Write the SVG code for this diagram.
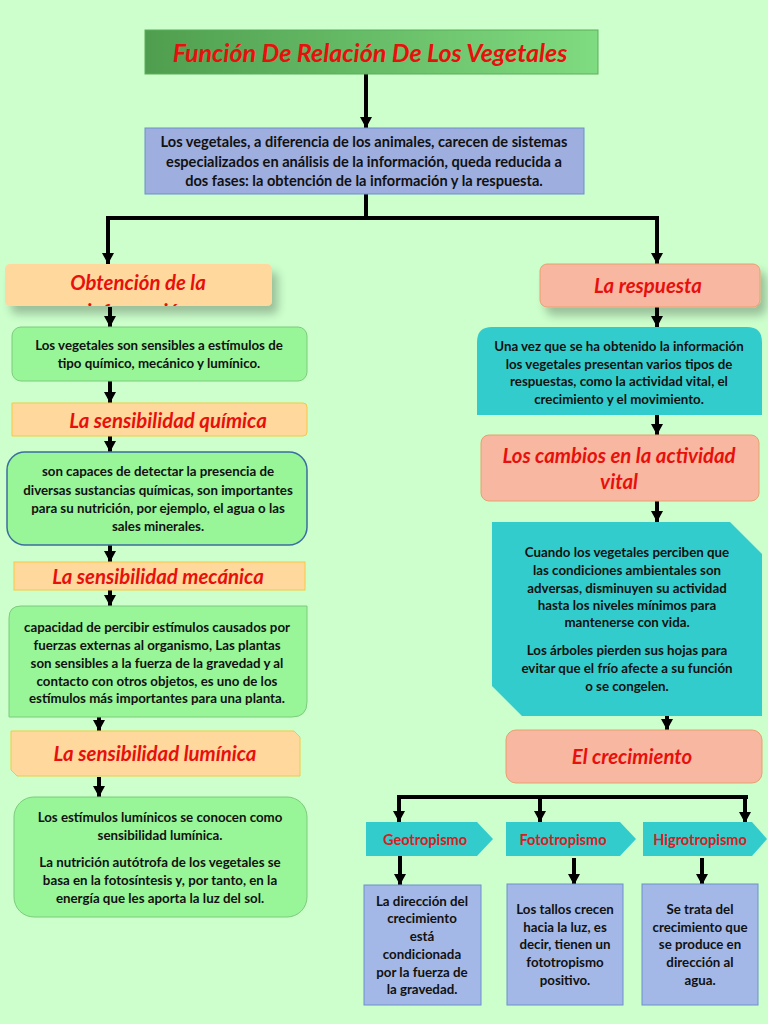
<svg xmlns="http://www.w3.org/2000/svg" width="768" height="1024" viewBox="0 0 768 1024">
<defs>
<linearGradient id="gTitle" x1="0" y1="0" x2="1" y2="0">
<stop offset="0" stop-color="#4f9e4f"/><stop offset="1" stop-color="#80dc80"/>
</linearGradient>
<marker id="ah" markerUnits="userSpaceOnUse" markerWidth="14" markerHeight="14" viewBox="0 0 14 14" refX="12" refY="7" orient="auto">
<path d="M1,1 L12,7 L1,13 Z" fill="#000"/>
</marker>
<filter id="sh" x="-10%" y="-20%" width="130%" height="180%">
<feGaussianBlur in="SourceAlpha" stdDeviation="5"/>
<feOffset dx="6" dy="8" result="b"/>
<feComponentTransfer><feFuncA type="linear" slope="0.25"/></feComponentTransfer>
<feMerge><feMergeNode/><feMergeNode in="SourceGraphic"/></feMerge>
</filter>
<clipPath id="cObt"><rect x="5" y="264" width="267" height="42"/></clipPath>
</defs>
<style>
.t{font-family:Lato,"Open Sans","Liberation Sans",sans-serif;font-weight:bold;font-size:13.3px;fill:#111;text-anchor:middle}
.i{font-size:14.6px}
.h{font-family:Lato,"Open Sans","Liberation Sans",sans-serif;font-weight:bold;font-style:italic;font-size:20.4px;fill:#e8100c;text-anchor:middle}
.s{font-family:Lato,"Open Sans","Liberation Sans",sans-serif;font-weight:bold;font-size:14.5px;fill:#d42020;text-anchor:middle}
.peach{fill:#ffd89e;stroke:#f5c842;stroke-width:1}
.salmon{fill:#f7b7a0;stroke:#e8a070;stroke-width:1}
.green{fill:#98f598;stroke:#7ccc7c;stroke-width:1}
.teal{fill:#33cccc;stroke:none}
.blue{fill:#a3b8e6;stroke:#6d90cc;stroke-width:1}
.c{stroke:#000;stroke-width:4;fill:none}
</style>
<rect width="768" height="1024" fill="#ccffcc"/>

<g id="connectors">
<path class="c" d="M366,74 V128" marker-end="url(#ah)"/>
<path class="c" d="M366,194 V218 M106,218 H659"/>
<path class="c" d="M108,218 V264" marker-end="url(#ah)"/>
<path class="c" d="M657,218 V264" marker-end="url(#ah)"/>
<path class="c" d="M110,307 V327" marker-end="url(#ah)"/>
<path class="c" d="M110,381 V403" marker-end="url(#ah)"/>
<path class="c" d="M110,436 V452" marker-end="url(#ah)"/>
<path class="c" d="M110,545 V562" marker-end="url(#ah)"/>
<path class="c" d="M110,590 V606" marker-end="url(#ah)"/>
<path class="c" d="M99,717 V731" marker-end="url(#ah)"/>
<path class="c" d="M99,777 V797" marker-end="url(#ah)"/>
<path class="c" d="M657,307 V327" marker-end="url(#ah)"/>
<path class="c" d="M657,415 V435" marker-end="url(#ah)"/>
<path class="c" d="M657,501 V522" marker-end="url(#ah)"/>
<path class="c" d="M667,716 V730" marker-end="url(#ah)"/>
<path class="c" d="M397,797 H748"/>
<path class="c" d="M399,797 V822" marker-end="url(#ah)"/>
<path class="c" d="M540,797 V822" marker-end="url(#ah)"/>
<path class="c" d="M745,797 V823" marker-end="url(#ah)"/>
<path class="c" d="M400,856 V885" marker-end="url(#ah)"/>
<path class="c" d="M574,858 V885" marker-end="url(#ah)"/>
<path class="c" d="M702,858 V885" marker-end="url(#ah)"/>
</g>

<g id="title">
<rect x="145" y="30" width="453" height="44" fill="url(#gTitle)" stroke="#5ab05a"/>
<text class="h" x="370" y="62" style="font-size:25px">Función De Relación De Los Vegetales</text>
</g>

<g id="intro">
<rect x="145" y="128" width="439" height="66" class="blue" style="fill:#9eaedf"/>
<text class="t i" x="364" y="147">Los vegetales, a diferencia de los animales, carecen de sistemas</text>
<text class="t i" x="364" y="167">especializados en análisis de la información, queda reducida a</text>
<text class="t i" x="364" y="186">dos fases: la obtención de la información y la respuesta.</text>
</g>

<g id="obtencion">
<rect x="5" y="264" width="267" height="42" rx="5" fill="#ffd89e" filter="url(#sh)"/>
<g clip-path="url(#cObt)">
<text class="h" x="138" y="290">Obtención de la</text>
<text class="h" x="138" y="319">información</text>
</g>
</g>

<g id="sensibles">
<rect x="12" y="327" width="295" height="54" rx="9" class="green"/>
<text class="t" x="159" y="350">Los vegetales son sensibles a estímulos de</text>
<text class="t" x="159" y="368">tipo químico, mecánico y lumínico.</text>
</g>

<g id="quimica">
<path d="M12,403 H303 Q307,403 307,407 V432 Q307,436 303,436 H12 Z" class="peach"/>
<text class="h" x="168" y="428">La sensibilidad química</text>
</g>

<g id="quimica-txt">
<rect x="7" y="452" width="300" height="93" rx="18" class="green" style="stroke:#3b6ea0;stroke-width:1.5"/>
<text class="t" x="158" y="476">son capaces de detectar la presencia de</text>
<text class="t" x="158" y="495">diversas sustancias químicas, son importantes</text>
<text class="t" x="158" y="513">para su nutrición, por ejemplo, el agua o las</text>
<text class="t" x="158" y="531">sales minerales.</text>
</g>

<g id="mecanica">
<rect x="14" y="562" width="291" height="28" class="peach"/>
<text class="h" x="158" y="584">La sensibilidad mecánica</text>
</g>

<g id="mecanica-txt">
<path d="M21,606 H307 V702 Q307,717 292,717 H9 V618 Q9,606 21,606 Z" class="green"/>
<text class="t" x="157" y="632">capacidad de percibir estímulos causados por</text>
<text class="t" x="157" y="650">fuerzas externas al organismo, Las plantas</text>
<text class="t" x="157" y="668">son sensibles a la fuerza de la gravedad y al</text>
<text class="t" x="157" y="686">contacto con otros objetos, es uno de los</text>
<text class="t" x="157" y="703">estímulos más importantes para una planta.</text>
</g>

<g id="luminica">
<path d="M11,731 H294 L300,737 V776 H17 L11,770 Z" class="peach"/>
<text class="h" x="155" y="761">La sensibilidad lumínica</text>
</g>

<g id="luminica-txt">
<rect x="14" y="797" width="293" height="120" rx="20" class="green"/>
<text class="t" x="160" y="822">Los estímulos lumínicos se conocen como</text>
<text class="t" x="160" y="840">sensibilidad lumínica.</text>
<text class="t" x="160" y="867">La nutrición autótrofa de los vegetales se</text>
<text class="t" x="160" y="885">basa en la fotosíntesis y, por tanto, en la</text>
<text class="t" x="160" y="903">energía que les aporta la luz del sol.</text>
</g>

<g id="respuesta">
<rect x="540" y="264" width="220" height="43" rx="7" class="salmon" filter="url(#sh)"/>
<text class="h" x="648" y="293">La respuesta</text>
</g>

<g id="respuesta-txt">
<path d="M492,327 H747 Q762,327 762,342 V415 H477 V342 Q477,327 492,327 Z" class="teal"/>
<text class="t" x="619" y="351">Una vez que se ha obtenido la información</text>
<text class="t" x="619" y="369">los vegetales presentan varios tipos de</text>
<text class="t" x="619" y="386">respuestas, como la actividad vital, el</text>
<text class="t" x="619" y="404">crecimiento y el movimiento.</text>
</g>

<g id="cambios">
<rect x="481" y="435" width="278" height="66" rx="8" class="salmon"/>
<text class="h" x="619" y="463">Los cambios en la actividad</text>
<text class="h" x="619" y="489">vital</text>
</g>

<g id="cambios-txt">
<path d="M492,522 H730 L762,554 V716 H522 L492,686 Z" class="teal"/>
<text class="t" x="627" y="557">Cuando los vegetales perciben que</text>
<text class="t" x="627" y="575">las condiciones ambientales son</text>
<text class="t" x="627" y="593">adversas, disminuyen su actividad</text>
<text class="t" x="627" y="610">hasta los niveles mínimos para</text>
<text class="t" x="627" y="627">mantenerse con vida.</text>
<text class="t" x="627" y="655">Los árboles pierden sus hojas para</text>
<text class="t" x="627" y="673">evitar que el frío afecte a su función</text>
<text class="t" x="627" y="691">o se congelen.</text>
</g>

<g id="crecimiento">
<rect x="506" y="730" width="256" height="53" rx="10" class="salmon"/>
<text class="h" x="632" y="764">El crecimiento</text>
</g>

<g id="geotropismo">
<path d="M366,822 H477 L493,839 L477,856 H366 Z" class="teal"/>
<text class="s" x="425" y="845">Geotropismo</text>
</g>
<g id="fototropismo">
<path d="M506,822 H620 L636,839 L620,856 H506 Z" class="teal"/>
<text class="s" x="563" y="845">Fototropismo</text>
</g>
<g id="higrotropismo">
<path d="M643,822 H752 L767,839 L752,856 H643 Z" class="teal"/>
<text class="s" x="700" y="845">Higrotropismo</text>
</g>

<g id="geo-txt">
<rect x="364" y="885" width="117" height="120" class="blue"/>
<text class="t" x="422" y="906">La dirección del</text>
<text class="t" x="422" y="923">crecimiento</text>
<text class="t" x="422" y="941">está</text>
<text class="t" x="422" y="959">condicionada</text>
<text class="t" x="422" y="977">por la fuerza de</text>
<text class="t" x="422" y="994">la gravedad.</text>
</g>
<g id="foto-txt">
<rect x="507" y="884" width="116" height="121" class="blue"/>
<text class="t" x="565" y="914">Los tallos crecen</text>
<text class="t" x="565" y="932">hacia la luz, es</text>
<text class="t" x="565" y="949">decir, tienen un</text>
<text class="t" x="565" y="967">fototropismo</text>
<text class="t" x="565" y="985">positivo.</text>
</g>
<g id="higro-txt">
<rect x="642" y="884" width="116" height="121" class="blue"/>
<text class="t" x="700" y="914">Se trata del</text>
<text class="t" x="700" y="932">crecimiento que</text>
<text class="t" x="700" y="949">se produce en</text>
<text class="t" x="700" y="967">dirección al</text>
<text class="t" x="700" y="985">agua.</text>
</g>
</svg>
